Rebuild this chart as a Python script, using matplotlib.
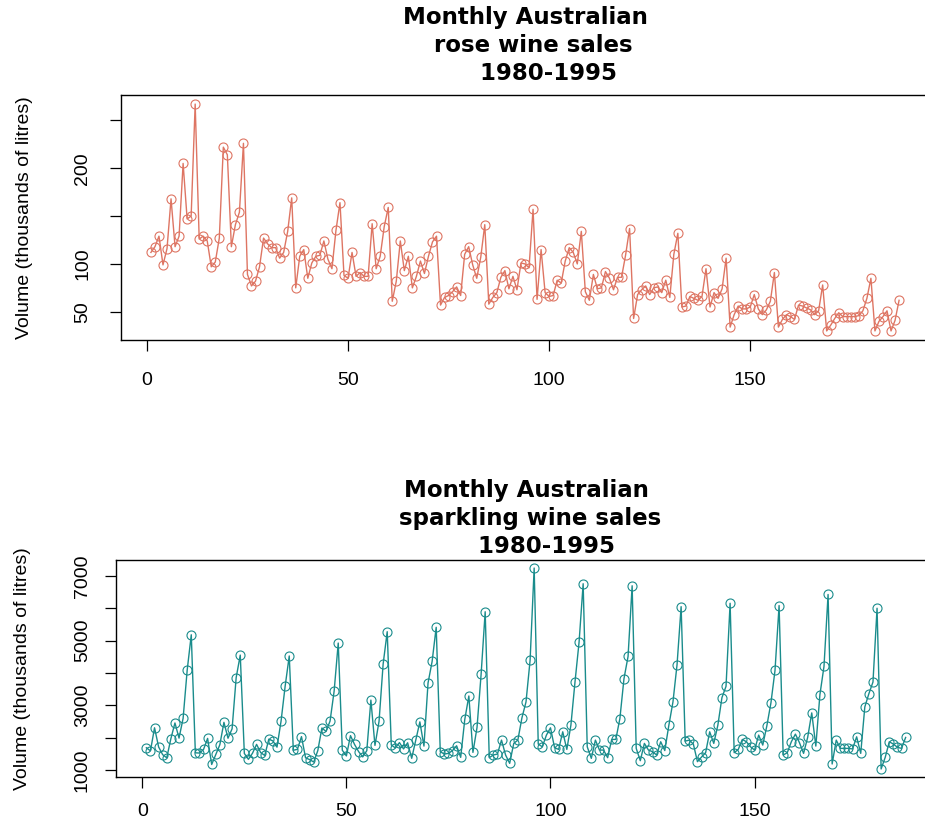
import numpy as np
import matplotlib
matplotlib.use("Agg")
import matplotlib.pyplot as plt

# monthly sales, thousands of litres, Jan 1980 - Jul 1995
rose = [112, 118, 129, 99, 116, 168, 118, 129, 205, 147, 150, 267,
        126, 129, 124, 97, 102, 127, 222, 214, 118, 141, 154, 226,
        89, 77, 82, 97, 127, 121, 117, 117, 106, 112, 134, 169,
        75, 108, 115, 85, 101, 108, 109, 124, 105, 95, 135, 164,
        88, 85, 112, 87, 91, 87, 87, 142, 95, 108, 139, 159,
        61, 82, 124, 93, 108, 75, 87, 103, 90, 108, 123, 129,
        57, 65, 67, 71, 76, 67, 110, 118, 99, 85, 107, 141,
        58, 65, 70, 86, 93, 74, 87, 73, 101, 100, 96, 157,
        63, 115, 70, 66, 67, 83, 80, 103, 117, 112, 100, 134,
        71, 62, 89, 74, 75, 92, 85, 73, 86, 86, 109, 137,
        43, 68, 73, 77, 68, 75, 76, 70, 83, 65, 110, 132,
        55, 56, 66, 64, 62, 66, 95, 55, 70, 64, 74, 106,
        34, 47, 56, 53, 53, 55, 68, 53, 47, 52, 61, 91,
        34, 42, 47, 45, 42, 57, 56, 54, 52, 47, 51, 78,
        30, 36, 43, 49, 45, 45, 45, 45, 46, 51, 64, 85,
        30, 40, 45, 51, 30, 41, 62]

sparkling = [1686, 1591, 2304, 1712, 1471, 1377, 1966, 2453, 1984, 2596, 4087, 5179,
             1530, 1523, 1633, 1976, 1170, 1480, 1781, 2472, 1981, 2273, 3857, 4551,
             1510, 1329, 1518, 1790, 1537, 1449, 1954, 1897, 1706, 2514, 3593, 4524,
             1609, 1638, 2030, 1375, 1320, 1245, 1600, 2298, 2191, 2511, 3440, 4923,
             1609, 1435, 2061, 1789, 1567, 1404, 1597, 3159, 1759, 2504, 4273, 5274,
             1771, 1682, 1846, 1650, 1840, 1360, 1923, 2487, 1738, 3687, 4354, 5410,
             1564, 1492, 1513, 1600, 1748, 1390, 2560, 3287, 1543, 2313, 3954, 5891,
             1380, 1462, 1492, 1923, 1462, 1205, 1821, 1923, 2610, 3102, 4385, 7242,
             1800, 1717, 2077, 2303, 1686, 1636, 2180, 1636, 2385, 3717, 4949, 6757,
             1717, 1359, 1923, 1615, 1615, 1380, 1944, 1944, 2590, 3821, 4508, 6694,
             1667, 1287, 1821, 1615, 1564, 1462, 1872, 1600, 2385, 3102, 4251, 6048,
             1892, 1923, 1800, 1256, 1400, 1533, 2180, 1821, 2385, 3236, 3585, 6153,
             1533, 1636, 1944, 1872, 1717, 1615, 2077, 1769, 2363, 3072, 4077, 6082,
             1462, 1533, 1872, 2108, 1840, 1513, 2005, 2764, 1738, 3328, 4200, 6424,
             1185, 1923, 1667, 1667, 1667, 1650, 2025, 1513, 2948, 3359, 3718, 5999,
             1031, 1390, 1872, 1800, 1700, 1667, 2005]

xticks = [0, 50, 100, 150]
rose_yticks = [50, 100, 150, 200, 250]
rose_ylabels = ["50", "100", "", "200", ""]
spark_yticks = [1000, 2000, 3000, 4000, 5000, 6000, 7000]
spark_ylabels = ["1000", "", "3000", "", "5000", "", "7000"]

rose_title = "Monthly Australian\n  rose wine sales\n      1980-1995"
spark_title = "Monthly Australian\n sparkling wine sales\n     1980-1995"
ylab = "Volume (thousands of litres)"

plt.rcParams["font.family"] = ["Liberation Sans", "DejaVu Sans"]

W, H = 925, 819
fig = plt.figure(figsize=(W / 100, H / 100), dpi=100)


def px_axes(l, t, r, b):
    # pixel box -> figure fraction
    return [l / W, 1 - b / H, (r - l) / W, (b - t) / H]


def panel(ax, y, color, yticks, ylabels, title, title_pad, xpad, ypad, lab_x):
    x = np.arange(1, len(y) + 1)
    ax.plot(x, y, color=color, lw=1.0, marker="o", ms=6.5,
            mfc="none", mec=color, mew=0.8)
    ax.margins(x=0.04, y=0.04)
    ax.set_xticks(xticks)
    ax.set_yticks(yticks)
    ax.set_yticklabels(ylabels)
    ax.tick_params(direction="out", length=8, width=0.9, labelsize=14,
                   color="black")
    ax.tick_params(axis="x", pad=xpad)
    ax.tick_params(axis="y", pad=ypad)
    plt.setp(ax.get_yticklabels(), rotation=90, va="center")
    for s in ax.spines.values():
        s.set_linewidth(1.0)
    ax.set_title(title, fontsize=16.5, fontweight="bold", family="DejaVu Sans",
                 pad=title_pad, linespacing=1.27)
    pos = ax.get_position()
    fig.text(lab_x / W, pos.y0 + pos.height / 2, ylab, rotation=90,
             ha="center", va="center", fontsize=14)


ax1 = fig.add_axes(px_axes(121, 95, 929, 340))
panel(ax1, rose, "#DE7563", rose_yticks, rose_ylabels, rose_title,
      11, 15, 13.5, 25)

ax2 = fig.add_axes(px_axes(116, 560, 936, 777))
panel(ax2, sparkling, "#1A8C8C", spark_yticks, spark_ylabels, spark_title,
      5, 10.5, 10, 23)

fig.savefig("out.png", dpi=100)
